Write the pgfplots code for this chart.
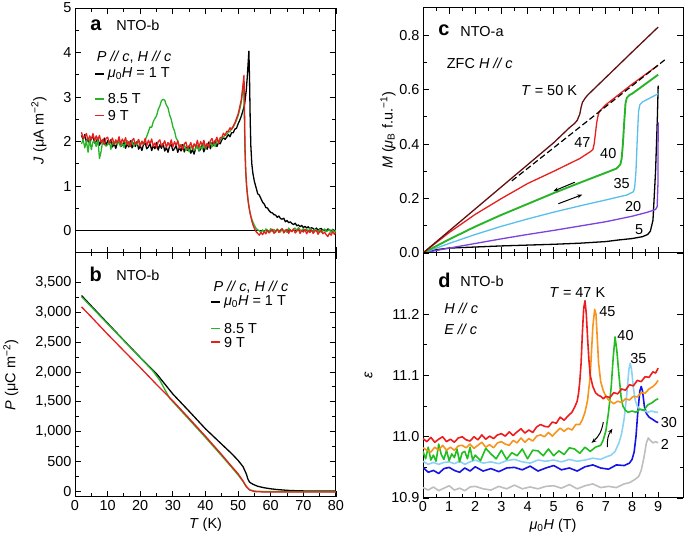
\documentclass[border=0pt]{standalone}
\usepackage{pgfplots}
\pgfplotsset{compat=1.18}
\usepackage{fontspec}
\setmainfont{Liberation Sans}
\usetikzlibrary{arrows.meta}
\definecolor{cgreen}{RGB}{40,180,40}
\definecolor{cred}{RGB}{230,30,30}
\definecolor{cmaroon}{RGB}{100,15,15}
\definecolor{cblue}{RGB}{90,190,235}
\definecolor{cpurple}{RGB}{125,65,220}
\definecolor{dred}{RGB}{238,28,28}
\definecolor{dorange}{RGB}{247,148,29}
\definecolor{dgreen}{RGB}{32,190,32}
\definecolor{dlblue}{RGB}{140,210,245}
\definecolor{dblue}{RGB}{20,20,230}
\definecolor{dgrey}{RGB}{190,190,190}
\pgfplotsset{
  panel/.style={scale only axis, width=261bp, height=245bp, anchor=south west,
    axis line style={line width=1bp}, tick style={line width=0.9bp, black},
    major tick length=6bp, minor tick length=3.5bp, tick align=inside,
    /pgf/number format/assume math mode=true, scaled ticks=false,
    every axis plot/.append style={line width=1.3bp, line join=round}},
}
\begin{document}
\begin{tikzpicture}[font=\fontsize{14.5}{17}\selectfont]
\useasboundingbox (0,0) rectangle (685bp,550bp);
% ---------------- panel a
\begin{axis}[panel, at={(75bp,297bp)}, xmin=0, xmax=80, ymin=-0.5, ymax=5,
  xtick={0,10,...,80}, minor x tick num=1, xticklabels={},
  ytick={0,1,2,3,4,5}, minor y tick num=1,
  ylabel={\textit{J} (μA m\textsuperscript{−2})}, ylabel shift=10bp]
\addplot[black, line width=0.8bp] coordinates {(0,0) (80,0)};
\addplot[black] coordinates {
(2,2.14)(2.5,2.05)(3,2.16)(3.5,1.99)(4,2.06)(4.5,1.94)(5,2.08)(5.5,2.11)(6,1.97)(6.5,2.00)(7,2.08)(7.5,1.92)(8,2.02)(8.5,1.94)(9,2.08)(9.5,1.91)(10,2.02)(10.5,1.94)(11,2.04)(11.5,1.88)(12,1.96)(12.5,1.85)(13,1.98)(13.5,2.02)(14,1.89)(14.5,1.92)(15,2.00)(15.5,1.85)(16,1.95)(16.5,1.88)(17,2.02)(17.5,1.86)(18,1.97)(18.5,1.89)(19,2.00)(19.5,1.83)(20,1.91)(20.5,1.80)(21,1.94)(21.5,1.97)(22,1.84)(22.5,1.88)(23,1.96)(23.5,1.80)(24,1.91)(24.5,1.84)(25,1.98)(25.5,1.81)(26,1.93)(26.5,1.85)(27,1.96)(27.5,1.79)(28,1.87)(28.5,1.76)(29,1.90)(29.5,1.93)(30,1.80)(30.5,1.84)(31,1.91)(31.5,1.76)(32,1.87)(32.5,1.79)(33,1.93)(33.5,1.77)(34,1.88)(34.5,1.80)(35,1.91)(35.5,1.74)(36,1.82)(36.5,1.72)(37,1.86)(37.5,1.91)(38,1.79)(38.5,1.83)(39,1.92)(39.5,1.77)(40,1.89)(40.5,1.83)(41,1.99)(41.5,1.84)(42,1.98)(42.5,1.91)(43,2.03)(43.5,1.89)(44,1.98)(44.5,1.95)(45,2.04)(45.5,2.09)(46,2.05)(46.5,2.10)(47,2.16)(47.5,2.11)(48,2.20)(48.5,2.20)(49,2.28)(49.5,2.30)(50,2.40)(50.5,2.48)(51,2.58)(51.5,2.70)(52,2.85)(52.5,3.15)(52.8,3.45)(53.1,3.80)(53.3,4.03)(53.5,3.40)(53.7,2.50)(53.9,1.90)(54.2,1.50)(54.5,1.30)(55,1.10)(55.5,0.97)(56,0.83)(56.5,0.80)(57,0.72)(57.5,0.64)(58,0.60)(58.5,0.52)(59,0.51)(59.5,0.45)(60,0.41)(60.5,0.40)(61,0.36)(61.5,0.35)(62,0.30)(62.5,0.33)(63,0.27)(63.5,0.26)(64,0.28)(64.5,0.20)(65,0.23)(65.5,0.18)(66,0.20)(66.5,0.16)(67,0.14)(67.5,0.17)(68,0.11)(68.5,0.13)(69,0.09)(69.5,0.12)(70,0.07)(70.5,0.10)(71,0.06)(71.5,0.09)(72,0.04)(72.5,0.07)(73,0.05)(73.5,0.02)(74,0.06)(74.5,0.01)(75,0.04)(75.5,0.05)(76,0.00)(76.5,0.03)(77,-0.01)(77.5,0.04)(78,0.02)(78.5,-0.02)(79,0.03)(79.5,0.00)(80,0.02)};
\addplot[cgreen] coordinates {
(2,1.95)(2.5,2.05)(3,1.86)(3.5,2.02)(4,1.76)(4.5,2.06)(5,1.82)(5.5,1.99)(6,2.02)(6.5,1.89)(7,2.07)(7.5,1.62)(8,1.78)(8.5,2.02)(9,1.96)(9.5,1.90)(10,1.93)(10.5,2.02)(11,1.83)(11.5,1.99)(12,1.94)(12.5,2.00)(13,1.93)(13.5,2.02)(14,1.89)(14.5,1.96)(15,1.87)(15.5,1.98)(16,2.02)(16.5,1.92)(17,1.95)(17.5,2.02)(18,1.89)(18.5,1.98)(19,1.93)(19.5,2.04)(20,1.91)(20.5,2.01)(21,1.94)(21.5,2.03)(22,2.12)(22.5,2.22)(23,2.33)(23.5,2.32)(24,2.45)(24.5,2.52)(25,2.58)(25.5,2.72)(26,2.80)(26.5,2.92)(27,2.95)(27.5,2.93)(28,2.82)(28.5,2.76)(29,2.60)(29.5,2.50)(30,2.33)(30.5,2.24)(31,2.08)(31.5,2.02)(32,1.90)(32.5,1.93)(33,1.85)(33.5,1.94)(34,1.80)(34.5,1.87)(35,1.77)(35.5,1.88)(36,1.90)(36.5,1.81)(37,1.84)(37.5,1.92)(38,1.80)(38.5,1.89)(39,1.84)(39.5,1.96)(40,1.83)(40.5,1.95)(41,1.89)(41.5,2.00)(42,1.88)(42.5,1.97)(43,1.89)(43.5,2.02)(44,2.02)(44.5,2.03)(45,2.08)(45.5,2.10)(46,2.15)(46.5,2.15)(47,2.22)(47.5,2.22)(48,2.30)(48.5,2.32)(49,2.40)(49.5,2.48)(50,2.58)(50.5,2.72)(51,2.90)(51.4,3.15)(51.7,3.30)(51.9,2.60)(52.1,1.80)(52.4,1.20)(52.8,0.85)(53.2,0.60)(53.6,0.42)(54,0.30)(54.5,0.20)(55,0.12)(55.5,0.05)(56,0.02)(56.5,0.00)(57,-0.05)(57.5,0.02)(58,-0.04)(58.5,0.04)(59,0.01)(59.5,-0.03)(60,0.05)(60.5,-0.02)(61,0.03)(61.5,-0.04)(62,0.04)(62.5,0.00)(63,-0.03)(63.5,0.05)(64,-0.01)(64.5,0.02)(65,-0.04)(65.5,0.06)(66,0.01)(66.5,-0.02)(67,0.04)(67.5,0.06)(68,0.00)(68.5,0.07)(69,0.02)(69.5,-0.01)(70,0.05)(70.5,0.00)(71,0.04)(71.5,-0.02)(72,0.05)(72.5,0.01)(73,-0.02)(73.5,0.03)(74,0.02)(74.5,-0.03)(75,0.03)(75.5,-0.04)(76,0.01)(76.5,0.04)(77,-0.02)(77.5,0.00)(78,0.03)(78.5,-0.04)(79,0.02)(79.5,-0.03)(80,0.01)};
\addplot[cred] coordinates {
(2,2.21)(2.5,2.07)(3,2.11)(3.5,2.18)(4,2.02)(4.5,2.13)(5,2.05)(5.5,2.18)(6,2.02)(6.5,2.13)(7,2.04)(7.5,2.14)(8,1.98)(8.5,2.05)(9,1.93)(9.5,2.07)(10,2.10)(10.5,1.97)(11,2.01)(11.5,2.08)(12,1.93)(12.5,2.04)(13,1.97)(13.5,2.11)(14,1.94)(14.5,2.06)(15,1.98)(15.5,2.09)(16,1.93)(16.5,2.00)(17,1.89)(17.5,2.03)(18,2.07)(18.5,1.94)(19,1.97)(19.5,2.05)(20,1.90)(20.5,2.01)(21,1.94)(21.5,2.07)(22,1.91)(22.5,2.03)(23,1.95)(23.5,2.06)(24,1.89)(24.5,1.97)(25,1.86)(25.5,2.00)(26,2.04)(26.5,1.90)(27,1.94)(27.5,2.02)(28,1.87)(28.5,1.98)(29,1.90)(29.5,2.04)(30,1.88)(30.5,2.00)(31,1.91)(31.5,2.02)(32,1.85)(32.5,1.93)(33,1.82)(33.5,1.95)(34,1.99)(34.5,1.85)(35,1.89)(35.5,1.98)(36,1.83)(36.5,1.95)(37,1.88)(37.5,2.03)(38,1.87)(38.5,2.00)(39,1.92)(39.5,2.03)(40,1.87)(40.5,1.96)(41,1.87)(41.5,2.02)(42,2.07)(42.5,1.95)(43,2.01)(43.5,2.10)(44,1.96)(44.5,2.09)(45,2.09)(45.5,2.19)(46,2.14)(46.5,2.23)(47,2.23)(47.5,2.31)(48,2.27)(48.5,2.35)(49,2.42)(49.5,2.52)(50,2.62)(50.5,2.78)(51,2.95)(51.3,3.15)(51.6,3.35)(51.8,3.49)(51.95,2.80)(52.1,1.90)(52.3,1.40)(52.6,1.00)(53.0,0.70)(53.4,0.50)(53.8,0.35)(54.2,0.22)(54.6,0.12)(55,0.05)(55.5,-0.02)(56,-0.06)(56.5,-0.10)(57,-0.04)(57.5,-0.09)(58,-0.02)(58.5,-0.07)(59,0.01)(59.5,-0.05)(60,-0.01)(60.5,0.03)(61,-0.06)(61.5,-0.01)(62,0.03)(62.5,-0.04)(63,0.02)(63.5,0.04)(64,-0.05)(64.5,0.00)(65,0.03)(65.5,-0.06)(66,0.02)(66.5,-0.02)(67,0.04)(67.5,-0.05)(68,-0.01)(68.5,0.03)(69,-0.06)(69.5,0.01)(70,-0.03)(70.5,0.03)(71,-0.07)(71.5,0.00)(72,-0.04)(72.5,0.02)(73,-0.06)(73.5,-0.01)(74,0.01)(74.5,-0.08)(75,-0.02)(75.5,0.00)(76,-0.07)(76.5,-0.03)(77,-0.09)(77.5,-0.13)(78,-0.05)(78.5,-0.10)(79,-0.02)(79.5,-0.08)(80,-0.04)};
\node[anchor=west, font=\fontsize{20}{22}\selectfont\bfseries] at (axis cs:3.6,4.62) {a};
\node[anchor=west] at (axis cs:11.6,4.6) {NTO-b};
\node[anchor=west] at (axis cs:5.6,3.9) {\textit{P // c}, \textit{H // c}};
\draw[black, line width=1.4bp] (axis cs:6,3.52) -- (axis cs:8.8,3.52);
\node[anchor=west] at (axis cs:9,3.52) {\textit{μ}\textsubscript{0}\textit{H} = 1 T};
\draw[cgreen, line width=1.4bp] (axis cs:6,2.96) -- (axis cs:8.8,2.96);
\node[anchor=west] at (axis cs:9,2.96) {8.5 T};
\draw[cred, line width=1.4bp] (axis cs:6,2.59) -- (axis cs:8.8,2.59);
\node[anchor=west] at (axis cs:9,2.59) {9 T};
\end{axis}
% ---------------- panel b
\begin{axis}[panel, at={(75bp,53bp)}, height=244bp, xmin=0, xmax=80, ymin=-100, ymax=4000,
  xtick={0,10,...,80}, minor x tick num=1,
  ytick={0,500,1000,1500,2000,2500,3000,3500}, minor y tick num=1,
  yticklabel style={/pgf/number format/.cd, 1000 sep={,}},
  xlabel={\textit{T} (K)},
  ylabel={\textit{P} (μC m\textsuperscript{−2})}, ylabel shift=10bp]
\addplot[black] coordinates {(2,3285)(5,3110)(10,2820)(15,2530)(20,2245)(25,1970)(30,1630)(35,1340)(40,1045)(45,785)(48,630)(50,515)(51.5,410)(52.5,290)(53,200)(53.5,150)(54.5,115)(56,80)(58,55)(60,38)(62,25)(65,12)(68,5)(72,0)(80,0)};
\addplot[cgreen] coordinates {(2,3265)(5,3095)(10,2810)(15,2525)(20,2240)(24,2010)(26,1860)(28,1660)(29,1560)(30,1500)(35,1200)(40,900)(45,590)(48,400)(50,270)(51.5,160)(52.5,70)(53.5,20)(55,0)(58,-10)(80,-10)};
\addplot[cred] coordinates {(2,3095)(5,2925)(10,2635)(15,2355)(20,2075)(25,1790)(30,1515)(35,1220)(40,920)(45,610)(48,415)(50,290)(51.5,170)(52.5,80)(53.5,20)(55,-10)(58,-15)(80,-15)};
\node[anchor=west, font=\fontsize{20}{22}\selectfont\bfseries] at (axis cs:3.4,3640) {b};
\node[anchor=west] at (axis cs:11.6,3620) {NTO-b};
\node[anchor=west] at (axis cs:41.4,3427) {\textit{P // c}, \textit{H // c}};
\draw[black, line width=1.4bp] (axis cs:41.8,3175) -- (axis cs:44.4,3175);
\node[anchor=west] at (axis cs:44.6,3175) {\textit{μ}\textsubscript{0}\textit{H} = 1 T};
\draw[cgreen, line width=1.4bp] (axis cs:41.8,2727) -- (axis cs:44.4,2727);
\node[anchor=west] at (axis cs:44.6,2727) {8.5 T};
\draw[cred, line width=1.4bp] (axis cs:41.8,2503) -- (axis cs:44.4,2503);
\node[anchor=west] at (axis cs:44.6,2503) {9 T};
\end{axis}
% ---------------- panel c
\begin{axis}[panel, at={(423bp,297bp)}, width=260bp, xmin=0, xmax=9.95, ymin=0, ymax=0.9,
  xtick={0,1,...,9}, minor x tick num=1, xticklabels={},
  ytick={0,0.2,0.4,0.6,0.8}, minor y tick num=1,
  yticklabel style={/pgf/number format/.cd, fixed, fixed zerofill, precision=1},
  ylabel={\textit{M} (\textit{μ}\textsubscript{B} f.u.\textsuperscript{−1})}, ylabel shift=-3bp]
\addplot[black] coordinates {(0,0)(0.5,0.012)(1,0.018)(2,0.022)(3,0.026)(4,0.029)(5,0.032)(6,0.036)(7,0.042)(7.5,0.048)(8,0.053)(8.4,0.06)(8.6,0.068)(8.7,0.08)(8.8,0.12)(8.9,0.3)(8.97,0.5)(9.0,0.615)};
\addplot[cpurple] coordinates {(0,0)(1,0.018)(2,0.035)(3,0.052)(4,0.068)(5,0.083)(6,0.099)(7,0.115)(8,0.135)(8.6,0.15)(8.9,0.16)(8.96,0.17)(8.99,0.25)(9.0,0.48)};
\addplot[cblue] coordinates {(0,0)(1,0.035)(2,0.068)(3,0.098)(4,0.125)(5,0.15)(6,0.173)(7,0.195)(7.8,0.213)(8.05,0.225)(8.1,0.24)(8.15,0.3)(8.2,0.42)(8.25,0.52)(8.3,0.545)(8.4,0.555)(8.6,0.565)(9,0.585)};
\addplot[cgreen, line width=1.9bp] coordinates {(0,0)(1,0.05)(2,0.097)(3,0.14)(4,0.18)(5,0.22)(6,0.258)(7,0.295)(7.4,0.31)(7.55,0.325)(7.6,0.345)(7.65,0.40)(7.7,0.48)(7.75,0.55)(7.8,0.57)(7.9,0.58)(8,0.585)(8.5,0.62)(9,0.655)};
\addplot[cred] coordinates {(0,0)(1,0.075)(2,0.142)(3,0.2)(4,0.255)(5,0.3)(6,0.347)(6.4,0.372)(6.5,0.38)(6.55,0.40)(6.6,0.44)(6.65,0.48)(6.7,0.505)(6.75,0.52)(6.85,0.53)(7,0.545)(8,0.62)(9,0.69)};
\addplot[black, line width=1.2bp, dash pattern=on 6bp off 3bp] coordinates {(3.4,0.265)(9.3,0.713)};
\addplot[cmaroon] coordinates {(0,0)(1,0.081)(2,0.162)(3,0.243)(4,0.324)(5,0.405)(5.6,0.46)(5.8,0.476)(5.9,0.487)(6.0,0.51)(6.05,0.535)(6.1,0.553)(6.2,0.568)(6.3,0.58)(7,0.645)(8,0.738)(9,0.83)};
\draw[-{Stealth[length=5bp,width=4bp]}, line width=1bp] (axis cs:5.81,0.26) -- (axis cs:4.99,0.227);
\draw[-{Stealth[length=5bp,width=4bp]}, line width=1bp] (axis cs:5.18,0.181) -- (axis cs:6.09,0.214);
\node[anchor=west, font=\fontsize{20}{22}\selectfont\bfseries] at (axis cs:0.45,0.818) {c};
\node[anchor=west] at (axis cs:1.3,0.815) {NTO-a};
\node[anchor=west] at (axis cs:0.78,0.698) {ZFC \textit{H // c}};
\node[anchor=west] at (axis cs:3.62,0.598) {\textit{T} = 50 K};
\node at (axis cs:6.1,0.404) {47};
\node at (axis cs:7.09,0.365) {40};
\node at (axis cs:7.6,0.257) {35};
\node at (axis cs:8.04,0.169) {20};
\node at (axis cs:8.27,0.086) {5};
\end{axis}
% ---------------- panel d
\begin{axis}[panel, at={(423bp,52bp)}, width=260bp, xmin=0, xmax=9.95, ymin=10.9, ymax=11.3,
  xtick={0,1,...,9}, minor x tick num=1,
  ytick={10.9,11.0,11.1,11.2}, minor y tick num=1,
  yticklabel style={/pgf/number format/.cd, fixed, fixed zerofill, precision=1},
  xlabel={\textit{μ}\textsubscript{0}\textit{H} (T)},
  ylabel={\textit{ε}}, ylabel shift=12bp,
  every axis plot/.append style={line width=1.6bp}]
\addplot[dgrey] coordinates {(0,10.917)(0.2,10.913)(0.4,10.918)(0.6,10.912)(0.8,10.916)(1.0,10.920)(1.2,10.913)(1.4,10.916)(1.6,10.912)(1.8,10.918)(2.0,10.919)(2.3,10.915)(2.6,10.913)(2.9,10.919)(3.2,10.915)(3.5,10.921)(3.8,10.915)(4.1,10.918)(4.4,10.915)(4.7,10.919)(5.0,10.920)(5.3,10.916)(5.6,10.922)(5.9,10.915)(6.2,10.920)(6.5,10.923)(6.8,10.917)(7.1,10.919)(7.4,10.917)(7.7,10.923)(7.9,10.925)(8.1,10.930)(8.25,10.935)(8.35,10.945)(8.45,10.965)(8.55,10.99)(8.62,10.998)(8.7,10.994)(8.8,10.990)(8.9,10.992)(9.0,10.990)};
\addplot[dblue] coordinates {(0,10.950)(0.2,10.942)(0.4,10.945)(0.6,10.940)(0.8,10.948)(1.0,10.950)(1.2,10.945)(1.4,10.942)(1.6,10.949)(1.8,10.944)(2.0,10.951)(2.3,10.944)(2.6,10.948)(2.9,10.943)(3.2,10.949)(3.5,10.950)(3.8,10.946)(4.1,10.952)(4.4,10.944)(4.7,10.949)(5.0,10.953)(5.3,10.946)(5.6,10.949)(5.9,10.944)(6.2,10.951)(6.5,10.954)(6.8,10.949)(7.1,10.947)(7.4,10.954)(7.7,10.953)(7.9,10.957)(8.0,10.963)(8.08,10.975)(8.15,11.00)(8.22,11.04)(8.3,11.075)(8.35,11.082)(8.4,11.075)(8.47,11.05)(8.55,11.038)(8.65,11.032)(8.8,11.028)(8.9,11.025)(9.0,11.023)};
\addplot[dlblue] coordinates {(0,10.960)(0.2,10.955)(0.4,10.958)(0.6,10.955)(0.8,10.958)(1.0,10.959)(1.2,10.956)(1.4,10.960)(1.6,10.955)(1.8,10.959)(2.0,10.962)(2.3,10.957)(2.6,10.959)(2.9,10.956)(3.2,10.961)(3.5,10.963)(3.8,10.959)(4.1,10.957)(4.4,10.962)(4.7,10.960)(5.0,10.962)(5.3,10.959)(5.6,10.963)(5.9,10.960)(6.2,10.962)(6.5,10.965)(6.8,10.963)(7.0,10.967)(7.2,10.970)(7.35,10.976)(7.5,10.990)(7.6,11.005)(7.7,11.03)(7.8,11.07)(7.88,11.11)(7.93,11.12)(7.98,11.11)(8.05,11.08)(8.12,11.06)(8.2,11.05)(8.3,11.045)(8.45,11.043)(8.6,11.040)(8.75,11.042)(8.9,11.040)(9.0,11.040)};
\addplot[dgreen] coordinates {(0,10.976)(0.1,10.964)(0.2,10.983)(0.3,10.962)(0.4,10.970)(0.5,10.960)(0.6,10.988)(0.7,10.971)(0.8,10.963)(0.9,10.978)(1.0,10.961)(1.1,10.972)(1.2,10.966)(1.3,10.980)(1.4,10.959)(1.5,10.974)(1.6,10.976)(1.7,10.964)(1.8,10.983)(1.9,10.962)(2.0,10.970)(2.2,10.961)(2.4,10.981)(2.6,10.972)(2.8,10.964)(3.0,10.978)(3.2,10.963)(3.4,10.974)(3.6,10.969)(3.8,10.980)(4.0,10.964)(4.2,10.978)(4.4,10.977)(4.6,10.969)(4.8,10.980)(5.0,10.969)(5.2,10.977)(5.4,10.971)(5.6,10.982)(5.8,10.980)(6.0,10.973)(6.2,10.983)(6.4,10.976)(6.6,10.983)(6.8,10.986)(6.9,10.995)(7.0,11.01)(7.1,11.04)(7.2,11.08)(7.28,11.13)(7.35,11.163)(7.42,11.14)(7.5,11.10)(7.58,11.065)(7.65,11.05)(7.75,11.043)(7.85,11.040)(8.0,11.042)(8.15,11.040)(8.3,11.045)(8.45,11.043)(8.6,11.052)(8.75,11.055)(8.9,11.060)(9.0,11.062)};
\addplot[dorange] coordinates {(0,10.982)(0.15,10.978)(0.3,10.975)(0.45,10.983)(0.6,10.978)(0.75,10.986)(0.9,10.978)(1.05,10.983)(1.2,10.978)(1.35,10.985)(1.5,10.986)(1.65,10.982)(1.8,10.988)(1.95,10.981)(2.1,10.986)(2.25,10.991)(2.4,10.983)(2.55,10.987)(2.7,10.982)(2.85,10.990)(3.0,10.992)(3.15,10.988)(3.3,10.986)(3.45,10.994)(3.6,10.990)(3.75,10.998)(3.9,10.991)(4.05,10.997)(4.2,10.993)(4.35,11.001)(4.5,11.003)(4.65,11.000)(4.8,11.007)(4.95,11.001)(5.1,11.008)(5.25,11.014)(5.4,11.009)(5.55,11.014)(5.7,11.011)(5.85,11.020)(6.0,11.020)(6.1,11.028)(6.2,11.04)(6.3,11.06)(6.4,11.10)(6.45,11.14)(6.5,11.18)(6.57,11.208)(6.62,11.20)(6.67,11.16)(6.72,11.12)(6.8,11.09)(6.9,11.075)(7.0,11.066)(7.1,11.060)(7.2,11.057)(7.3,11.054)(7.45,11.058)(7.6,11.056)(7.75,11.062)(7.9,11.060)(8.05,11.066)(8.2,11.065)(8.35,11.072)(8.5,11.071)(8.65,11.078)(8.8,11.082)(8.9,11.086)(9.0,11.092)};
\addplot[dred] coordinates {(0,10.997)(0.15,10.992)(0.3,10.999)(0.45,10.991)(0.6,10.996)(0.75,11.000)(0.9,10.992)(1.05,10.996)(1.2,10.991)(1.35,10.998)(1.5,11.000)(1.65,10.995)(1.8,10.993)(1.95,11.000)(2.1,10.995)(2.25,11.003)(2.4,10.996)(2.55,11.001)(2.7,10.997)(2.85,11.003)(3.0,11.005)(3.15,11.001)(3.3,11.008)(3.45,11.002)(3.6,11.008)(3.75,11.013)(3.9,11.006)(4.05,11.011)(4.2,11.007)(4.35,11.016)(4.5,11.020)(4.65,11.017)(4.8,11.016)(4.95,11.024)(5.1,11.022)(5.25,11.032)(5.4,11.027)(5.55,11.034)(5.7,11.040)(5.8,11.048)(5.9,11.058)(5.95,11.07)(6.0,11.09)(6.05,11.12)(6.1,11.17)(6.15,11.21)(6.2,11.222)(6.25,11.20)(6.3,11.16)(6.35,11.125)(6.4,11.10)(6.5,11.082)(6.6,11.072)(6.7,11.068)(6.8,11.066)(6.9,11.062)(7.0,11.066)(7.15,11.064)(7.3,11.072)(7.45,11.070)(7.6,11.078)(7.75,11.076)(7.9,11.085)(8.05,11.083)(8.2,11.092)(8.35,11.090)(8.5,11.098)(8.65,11.097)(8.8,11.106)(8.9,11.104)(9.0,11.112)};
\draw[-{Stealth[length=5bp,width=4bp]}, line width=1bp] (axis cs:6.9,11.024) to[bend left=20] (axis cs:6.45,10.99);
\draw[-{Stealth[length=5bp,width=4bp]}, line width=1bp] (axis cs:7.06,10.983) to[bend left=20] (axis cs:7.25,11.013);
\node[anchor=west, font=\fontsize{20}{22}\selectfont\bfseries] at (axis cs:0.45,11.256) {d};
\node[anchor=west] at (axis cs:1.3,11.254) {NTO-b};
\node[anchor=west] at (axis cs:0.68,11.21) {\textit{H // c}};
\node[anchor=west] at (axis cs:0.68,11.176) {\textit{E // c}};
\node[anchor=west] at (axis cs:4.7,11.236) {\textit{T} = 47 K};
\node at (axis cs:7.06,11.205) {45};
\node at (axis cs:7.75,11.165) {40};
\node at (axis cs:8.24,11.127) {35};
\node at (axis cs:9.41,11.024) {30};
\node at (axis cs:9.26,10.987) {2};
\end{axis}
\end{tikzpicture}
\end{document}
